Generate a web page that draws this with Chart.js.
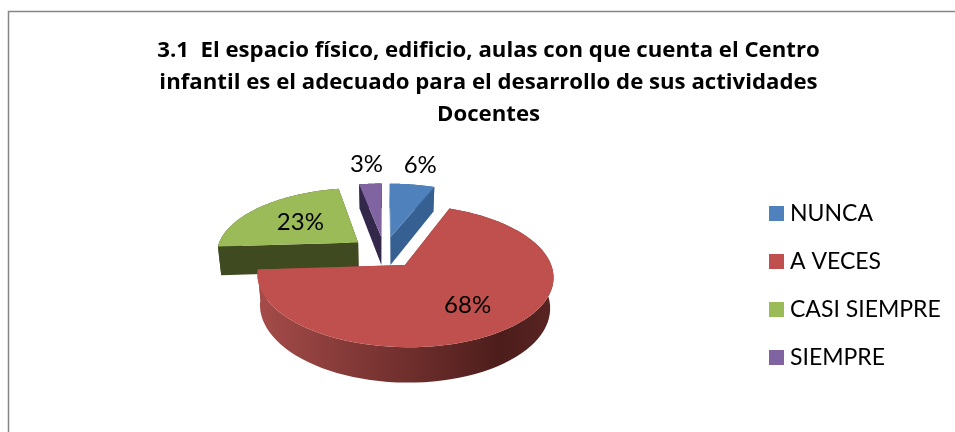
<!DOCTYPE html>
<html><head><meta charset="utf-8">
<style>html,body{margin:0;padding:0;background:#fff;overflow:hidden}canvas{display:block}</style>
<script src="https://cdn.jsdelivr.net/npm/chart.js@4/dist/chart.umd.js"></script>
</head><body>
<canvas id="c" width="955" height="432"></canvas>
<script>
const categories = ['NUNCA', 'A VECES', 'CASI SIEMPRE', 'SIEMPRE'];
const values = [6, 68, 23, 3];
const topColors = ['#4F81BD', '#C0504D', '#9BBB59', '#8064A2'];
const sideColors = ['#376092', '#6E2D2B', '#3F4A20', '#33284A'];
const labelRadii = [1.44, 0.65, 0.565, 1.44];
const titleLines = [
  '3.1  El espacio físico, edificio, aulas con que cuenta el Centro',
  'infantil es el adecuado para el desarrollo de sus actividades',
  'Docentes'
];
const drawOrder = [3, 0, 2, 1];

const FONT = 'Lato, "Open Sans", sans-serif';
const view = { cx: 384.4, cy: 252, squash: 66 / 143, persp: 0.15, depth: 29, inset: 0.98 };
const legendBox = { x: 769, y: 206, step: 48, size: 15, gap: 6 };

function project(chartCx, chartCy, R, px, py, drop) {
  const X = px - chartCx, Y = chartCy - py;
  const s = 1 / (1 + view.persp * Y / R);
  const k = drop ? view.inset : 1;
  return {
    x: view.cx + X * s * k,
    y: view.cy - view.squash * Y * s + (drop ? view.depth * s : 0)
  };
}

const pie3d = {
  id: 'pie3d',
  beforeDraw(chart) {
    const c = chart.ctx;
    c.save();
    c.strokeStyle = '#868686';
    c.lineWidth = 1.5;
    c.beginPath();
    c.moveTo(8.5, 432);
    c.lineTo(8.5, 11.5);
    c.lineTo(955, 11.5);
    c.stroke();
    c.restore();
  },
  afterDraw(chart) {
    const c = chart.ctx;
    c.save();
    c.font = '400 23px ' + FONT;
    c.textAlign = 'left';
    c.textBaseline = 'middle';
    chart.data.labels.forEach((label, i) => {
      const y = legendBox.y + legendBox.step * i;
      c.fillStyle = chart.data.datasets[0].backgroundColor[i];
      c.fillRect(legendBox.x, y, legendBox.size, legendBox.size);
      c.fillStyle = '#000';
      c.fillText(label, legendBox.x + legendBox.size + legendBox.gap, y + legendBox.size / 2);
    });
    c.restore();
  },
  beforeDatasetDraw(chart) {
    const c = chart.ctx;
    const arcs = chart.getDatasetMeta(0).data;
    for (const i of drawOrder) {
      const a = arcs[i];
      const R = a.outerRadius, off = a.options.offset;
      const mid = (a.startAngle + a.endAngle) / 2;
      const ax = a.x + Math.cos(mid) * off, ay = a.y + Math.sin(mid) * off;
      const pts = [];
      const n = 80;
      for (let k = 0; k <= n; k++) {
        const t = a.startAngle + (a.endAngle - a.startAngle) * k / n;
        pts.push([ax + Math.cos(t) * R, ay + Math.sin(t) * R]);
      }
      const P = (p, d) => project(a.x, a.y, R, p[0], p[1], d);
      const apex = [ax, ay];
      const side = i === 1 ? (() => {
        const g = c.createLinearGradient(view.cx - R * 0.9, 0, view.cx + R * 1.2, 0);
        g.addColorStop(0, '#A54C4A');
        g.addColorStop(0.5, '#702F2D');
        g.addColorStop(0.82, '#4C1D1B');
        g.addColorStop(1, '#5A2523');
        return g;
      })() : sideColors[i];
      c.fillStyle = side;
      c.beginPath();
      pts.forEach((p, k) => { const q = P(p, false); k ? c.lineTo(q.x, q.y) : c.moveTo(q.x, q.y); });
      [...pts].reverse().forEach(p => { const q = P(p, true); c.lineTo(q.x, q.y); });
      c.closePath();
      c.fill();
      for (const edge of [pts[0], pts[n]]) {
        const q1 = P(apex, false), q2 = P(edge, false), q3 = P(edge, true), q4 = P(apex, true);
        c.beginPath();
        c.moveTo(q1.x, q1.y); c.lineTo(q2.x, q2.y); c.lineTo(q3.x, q3.y); c.lineTo(q4.x, q4.y);
        c.closePath();
        c.fill();
      }
      c.fillStyle = a.options.backgroundColor;
      c.beginPath();
      const q0 = P(apex, false);
      c.moveTo(q0.x, q0.y);
      pts.forEach(p => { const q = P(p, false); c.lineTo(q.x, q.y); });
      c.closePath();
      c.fill();
    }
    c.save();
    c.font = '400 24px ' + FONT;
    c.fillStyle = '#000';
    c.textAlign = 'center';
    c.textBaseline = 'middle';
    arcs.forEach((a, i) => {
      const mid = (a.startAngle + a.endAngle) / 2;
      const r = a.options.offset + labelRadii[i] * a.outerRadius;
      const q = project(a.x, a.y, a.outerRadius, a.x + Math.cos(mid) * r, a.y + Math.sin(mid) * r, false);
      c.fillText(values[i] + '%', q.x, q.y);
    });
    c.restore();
    return false;
  }
};

new Chart(document.getElementById('c'), {
  type: 'pie',
  data: {
    labels: categories,
    datasets: [{
      data: values,
      backgroundColor: topColors,
      offset: 34,
      borderWidth: 0
    }]
  },
  options: {
    responsive: false,
    animation: false,
    radius: 142,
    layout: { padding: { left: 22, right: 0, top: 35, bottom: 0 } },
    plugins: {
      tooltip: { enabled: false },
      legend: { display: false },
      title: {
        display: true,
        text: titleLines,
        color: '#000',
        font: { family: '"Open Sans", sans-serif', weight: 'bold', size: 22.2, lineHeight: 1.44 },
        padding: { top: 0, bottom: 10 }
      }
    }
  },
  plugins: [pie3d]
});
</script>
</body></html>
